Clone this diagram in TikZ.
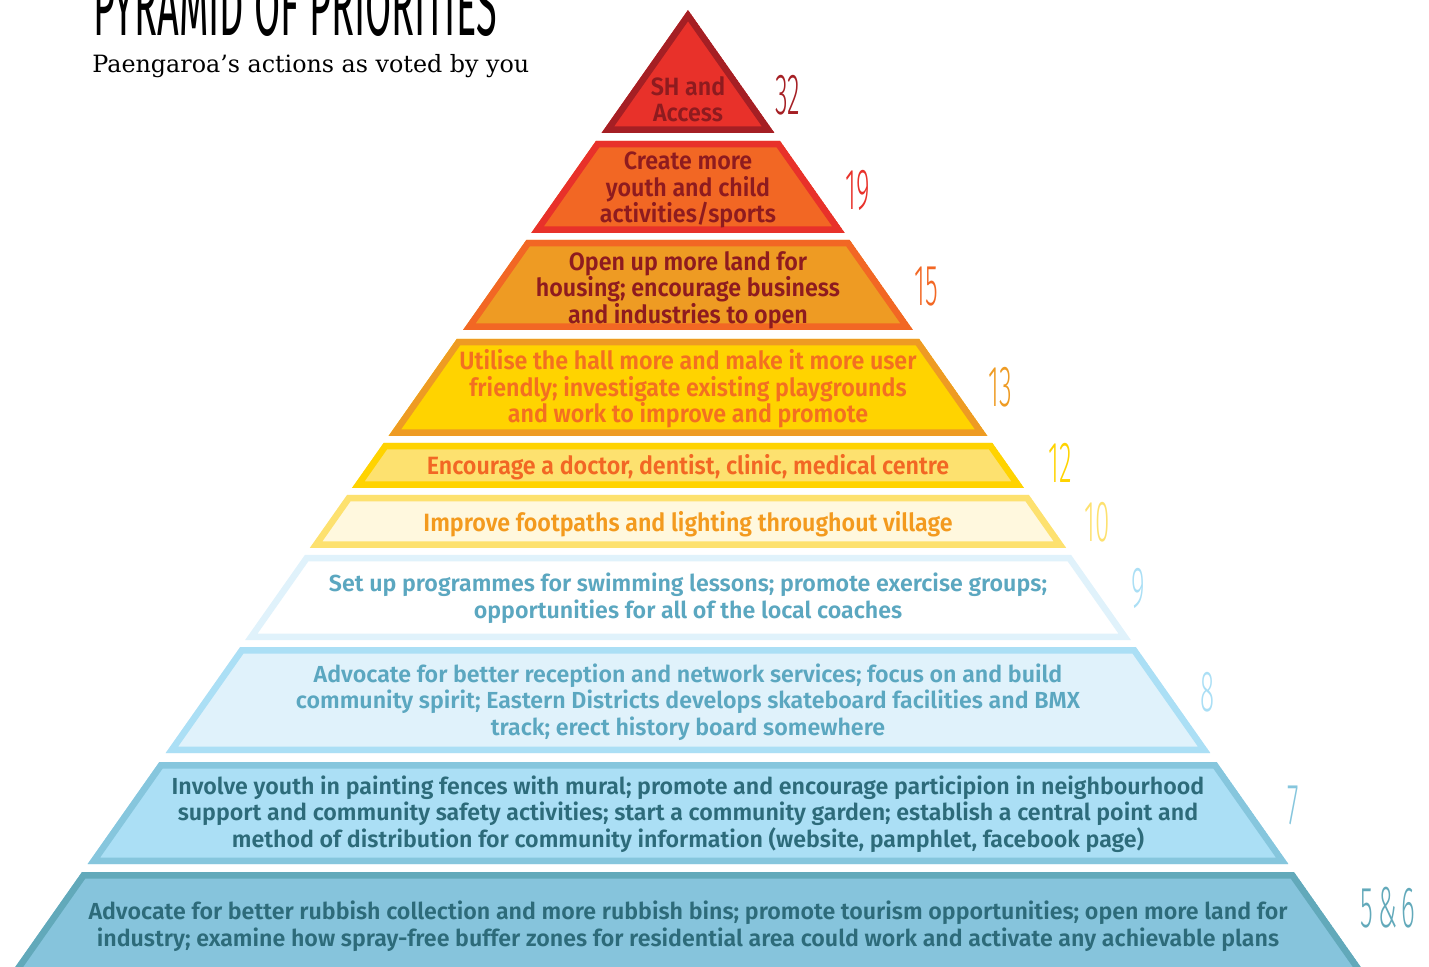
\documentclass[tikz,border=0pt]{standalone}
\usepackage{fontspec}
\setmainfont{Fira Sans}
\newfontfamily\labelfont{Fira Sans SemiBold}
\newfontfamily\narrowfont{Fira Sans SemiBold}[FakeStretch=0.93]
\newfontfamily\handfont{Fira Sans Light}[FakeStretch=0.45]
\newfontfamily\titlefont{Fira Sans}[FakeStretch=0.44]
\newfontfamily\slabfont{DejaVu Serif}

% layer colours, top to bottom
\definecolor{redA}{HTML}{A51F24}
\definecolor{redB}{HTML}{E8312A}
\definecolor{orangeA}{HTML}{F26724}
\definecolor{orangeB}{HTML}{EE9B23}
\definecolor{yellowA}{HTML}{FFD300}
\definecolor{yellowB}{HTML}{FDE16F}
\definecolor{creamA}{HTML}{FFF8DE}
\definecolor{blueA}{HTML}{E0F2FB}
\definecolor{blueB}{HTML}{ABDFF5}
\definecolor{blueC}{HTML}{86C6DD}
\definecolor{blueD}{HTML}{62A9BA}
\definecolor{blueE}{HTML}{86C4DC}
\definecolor{txtRed}{HTML}{8E1B1F}
\definecolor{txtOrange}{HTML}{F36F21}
\definecolor{txtAmber}{HTML}{F39A1E}
\definecolor{txtBlue}{HTML}{5BA7C0}
\definecolor{txtTeal}{HTML}{2D6B7A}

% one slice of the pyramid: top y, bottom y, border colour, fill colour
\newcommand{\pyrlayer}[4]{%
  \begin{scope}
    \clip ({688-0.703*(#1-10)},#1) -- ({688+0.703*(#1-10)},#1)
      -- ({688+0.703*(#2-10)},#2) -- ({688-0.703*(#2-10)},#2) -- cycle;
    \filldraw[fill=#4, draw=#3, line width=6.5pt, line join=miter]
      ({688-0.703*(#1-10)},#1) -- ({688+0.703*(#1-10)},#1)
      -- ({688+0.703*(#2-10)},#2) -- ({688-0.703*(#2-10)},#2) -- cycle;
  \end{scope}}

\begin{document}
\begin{tikzpicture}[x=0.5pt, y=-0.5pt,
    toptext/.style={font=\narrowfont\fontsize{12.5}{13.25}\selectfont, align=center, inner sep=0pt},
    lowtext/.style={font=\labelfont\fontsize{11.6}{13.25}\selectfont, align=center, inner sep=0pt},
    votes/.style={font=\handfont\fontsize{29}{29}\selectfont, inner sep=0pt}]
  \useasboundingbox (0,0) rectangle (1429,967);

  % title
  \node[anchor=base west, font=\titlefont\fontsize{43}{43}\selectfont, inner sep=0pt] (title) at (93,36) {PYRAMID OF PRIORITIES};
  \node[anchor=base west, font=\slabfont\fontsize{11.9}{13}\selectfont, inner sep=0pt] (subtitle) at (92,73) {Paengaroa’s actions as voted by you};

  % slices
  \pyrlayer{10}{133}{redA}{redB}
  \pyrlayer{141}{233}{redB}{orangeA}
  \pyrlayer{240}{330}{orangeA}{orangeB}
  \pyrlayer{339}{436}{orangeB}{yellowA}
  \pyrlayer{443}{488}{yellowA}{yellowB}
  \pyrlayer{495}{548}{yellowB}{creamA}
  \pyrlayer{555}{640}{blueA}{white}
  \pyrlayer{647}{753}{blueB}{blueA}
  \pyrlayer{762}{864}{blueC}{blueB}
  \pyrlayer{872}{990}{blueD}{blueE}

  % actions
  \node[toptext, text=txtRed] (t1) at (688,99) {SH and\\Access};
  \node[toptext, text=txtRed] (t2) at (688,190) {Create more\\youth and child\\activities/sports};
  \node[toptext, text=txtRed] (t3) at (688,290) {Open up more land for\\housing; encourage business\\and industries to open};
  \node[toptext, text=txtOrange] (t4) at (688,389) {Utilise the hall more and make it more user\\friendly; investigate existing playgrounds\\and work to improve and promote};
  \node[toptext, text=orangeA] (t5) at (688,467) {Encourage a doctor, dentist, clinic, medical centre};
  \node[toptext, text=txtAmber] (t6) at (688,524) {Improve footpaths and lighting throughout village};
  \node[lowtext, text=txtBlue] (t7) at (688,598) {Set up programmes for swimming lessons; promote exercise groups;\\opportunities for all of the local coaches};
  \node[lowtext, text=txtBlue] (t8) at (688,702) {Advocate for better reception and network services; focus on and build\\community spirit; Eastern Districts develops skateboard facilities and BMX\\track; erect history board somewhere};
  \node[lowtext, text=txtTeal] (t9) at (688,814) {Involve youth in painting fences with mural; promote and encourage participion in neighbourhood\\support and community safety activities; start a community garden; establish a central point and\\method of distribution for community information (website, pamphlet, facebook page)};
  \node[lowtext, text=txtTeal] (t10) at (688,926) {Advocate for better rubbish collection and more rubbish bins; promote tourism opportunities; open more land for\\industry; examine how spray-free buffer zones for residential area could work and activate any achievable plans};

  % votes
  \node[votes, text=redA] (v1) at (788,95) {32};
  \node[votes, text=redB] (v2) at (858,190) {19};
  \node[votes, text=orangeA] (v3) at (926,287) {15};
  \node[votes, text=orangeB] (v4) at (1000,387) {13};
  \node[votes, text=yellowA] (v5) at (1060,463) {12};
  \node[votes, text=yellowB] (v6) at (1097,522) {10};
  \node[votes, text=blueB] (v7) at (1138,588) {9};
  \node[votes, text=blueB] (v8) at (1208,692) {8};
  \node[votes, text=blueC] (v9) at (1293,805) {7};
  \node[votes, text=blueD] (v10) at (1388,908) {5\kern2.5pt\&\kern2.5pt6};
\end{tikzpicture}
\end{document}
